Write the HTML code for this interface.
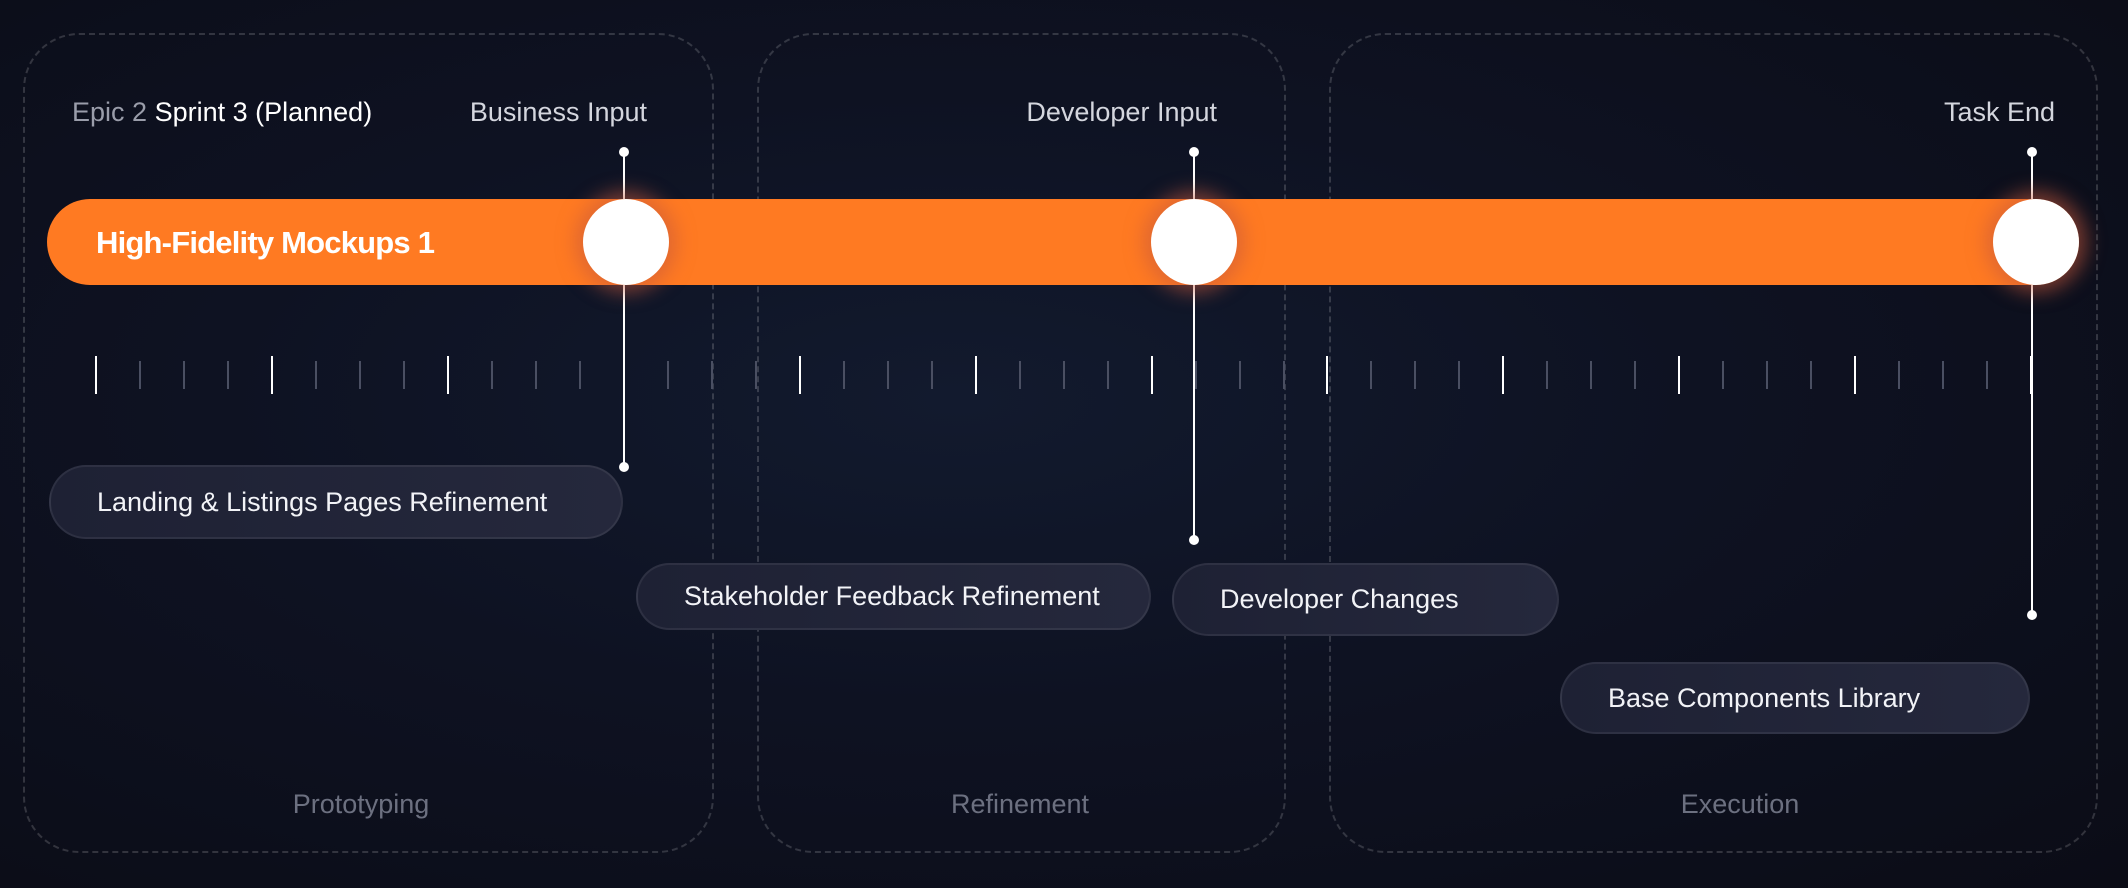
<!DOCTYPE html>
<html><head><meta charset="utf-8"><style>
body{margin:0;width:2128px;height:888px;overflow:hidden;background:radial-gradient(ellipse at 45% 45%,#121a2e 0%,#0e1222 45%,#0b0c16 100%);font-family:"Liberation Sans",sans-serif;position:relative}
.box{position:absolute;border:2px dashed rgba(255,255,255,0.16);border-radius:56px;top:33px;height:816px}
.lab{position:absolute;font-size:27px;color:#6c7080;transform:translateX(-50%);top:789px}
.top{position:absolute;top:97px;font-size:27px;color:#d4d6de}
.bar{position:absolute;left:47px;top:199px;width:2032px;height:86px;border-radius:43px;background:#ff7a22}
.circ{position:absolute;width:86px;height:86px;border-radius:50%;background:#fff;top:199px;box-shadow:0 0 18px 8px rgba(200,90,60,0.55)}
.vl{position:absolute;width:2px;background:#fff}
.dot{position:absolute;width:10px;height:10px;border-radius:50%;background:#fff}
.pill{position:absolute;border-radius:40px;background:linear-gradient(90deg,#1e2134,#25283c);border:2px solid rgba(255,255,255,0.07);color:#f2f3f7;font-size:27px;box-sizing:border-box;display:flex;align-items:center;padding-left:46px}
.tk{position:absolute;width:2px}
</style></head><body>
<div class="box" style="left:23px;width:687px"></div>
<div class="box" style="left:757px;width:525px"></div>
<div class="box" style="left:1329px;width:765px"></div>
<div class="lab" style="left:361px">Prototyping</div>
<div class="lab" style="left:1020px">Refinement</div>
<div class="lab" style="left:1740px">Execution</div>
<div class="top" style="left:72px"><span style="color:#9a9daa">Epic 2</span> <span style="color:#fff">Sprint 3 (Planned)</span></div>
<div class="top" style="right:1481px">Business Input</div>
<div class="top" style="right:911px">Developer Input</div>
<div class="top" style="right:73px">Task End</div>
<div id="ticks"></div>
<div class="vl" style="left:623px;top:152px;height:315px"></div>
<div class="dot" style="left:619px;top:147px"></div><div class="dot" style="left:619px;top:462px"></div>
<div class="vl" style="left:1193px;top:152px;height:388px"></div>
<div class="dot" style="left:1189px;top:147px"></div><div class="dot" style="left:1189px;top:535px"></div>
<div class="vl" style="left:2031px;top:152px;height:463px"></div>
<div class="dot" style="left:2027px;top:147px"></div><div class="dot" style="left:2027px;top:610px"></div>
<div class="bar"></div>
<div style="position:absolute;left:96px;top:225px;font-size:31px;font-weight:bold;color:#fff;letter-spacing:-0.8px">High-Fidelity Mockups 1</div>
<div class="circ" style="left:583px"></div>
<div class="circ" style="left:1151px"></div>
<div class="circ" style="left:1993px"></div>
<div class="pill" style="left:49px;top:465px;width:574px;height:74px">Landing &amp; Listings Pages Refinement</div>
<div class="pill" style="left:636px;top:563px;width:515px;height:67px">Stakeholder Feedback Refinement</div>
<div class="pill" style="left:1172px;top:563px;width:387px;height:73px">Developer Changes</div>
<div class="pill" style="left:1560px;top:662px;width:470px;height:72px">Base Components Library</div>
<script>
var h='';for(var i=0;i<45;i++){var x=96+i*43.98;var m=i%4==0;h+='<div class="tk" style="left:'+(x-1).toFixed(1)+'px;top:'+(m?356:361)+'px;height:'+(m?38:28)+'px;background:'+(m?'#fff':'#4a4f62')+'"></div>';}
document.getElementById('ticks').innerHTML=h;
</script>
</body></html>
